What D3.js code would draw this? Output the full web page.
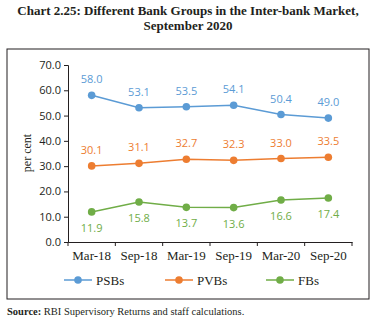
<!DOCTYPE html>
<html><head><meta charset="utf-8">
<script src="https://cdn.jsdelivr.net/npm/d3@7"></script>
<style>body{margin:0;background:#fff}svg{display:block}</style>
</head><body>
<script>
const categories = ["Mar-18","Sep-18","Mar-19","Sep-19","Mar-20","Sep-20"];
const psbs = [58.0,53.1,53.5,54.1,50.4,49.0];
const pvbs = [30.1,31.1,32.7,32.3,33.0,33.5];
const fbs = [11.9,15.8,13.7,13.6,16.6,17.4];
const seriesNames = ["PSBs","PVBs","FBs"];
const yTicks = [0,10,20,30,40,50,60,70];

const W=375,H=321;
const svg=d3.select("body").append("svg").attr("width",W).attr("height",H);
const serif="'Liberation Serif','DejaVu Serif',serif";
const sans="'Open Sans','DejaVu Sans',sans-serif";

svg.append("text").attr("x",188).attr("y",15).attr("text-anchor","middle")
 .attr("font-family",serif).attr("font-weight","bold").attr("font-size",13).attr("fill","#231f20")
 .text("Chart 2.25: Different Bank Groups in the Inter-bank Market,");
svg.append("text").attr("x",188).attr("y",30).attr("text-anchor","middle")
 .attr("font-family",serif).attr("font-weight","bold").attr("font-size",13).attr("fill","#231f20")
 .text("September 2020");

svg.append("rect").attr("x",7).attr("y",49).attr("width",362).attr("height",250)
 .attr("fill","none").attr("stroke","#231f20").attr("stroke-width",1);

const x=d3.scaleBand().domain(categories).range([68,352]);
const y=d3.scaleLinear().domain([0,70]).range([242,65]);

const gy=svg.append("g").attr("transform","translate(68,0)")
 .call(d3.axisLeft(y).tickValues(yTicks).tickFormat(d3.format(".1f")).tickSize(4));
gy.selectAll("text").attr("font-family",sans).attr("font-size",11).attr("fill","#231f20");
gy.select(".domain").attr("stroke","#231f20");
gy.selectAll(".tick line").attr("stroke","#231f20");

const gx=svg.append("g").attr("transform","translate(0,242)")
 .call(d3.axisBottom(x).tickSize(0).tickPadding(9));
gx.selectAll("text").attr("font-family",serif).attr("font-size",13).attr("fill","#231f20");
gx.select(".domain").attr("stroke","#231f20");
// boundary ticks
const bounds=categories.map(c=>x(c)).concat([x.range()[1]]);
svg.append("g").selectAll("line").data(bounds).join("line")
 .attr("x1",d=>d).attr("x2",d=>d).attr("y1",242).attr("y2",246).attr("stroke","#231f20");

const colors=["#5b9bd5","#ed7d31","#70ad47"];
const data=[psbs,pvbs,fbs];
const labelDy=[-12,-12,20];
const cx=c=>x(c)+x.bandwidth()/2;
data.forEach((vals,i)=>{
  const pts=categories.map((c,j)=>({c,v:vals[j]}));
  svg.append("path").datum(pts).attr("fill","none").attr("stroke",colors[i]).attr("stroke-width",1.5)
   .attr("d",d3.line().x(d=>cx(d.c)).y(d=>y(d.v)));
  svg.append("g").selectAll("circle").data(pts).join("circle")
   .attr("cx",d=>cx(d.c)).attr("cy",d=>y(d.v)).attr("r",3.8).attr("fill",colors[i]);
  svg.append("g").selectAll("text").data(pts).join("text")
   .attr("x",d=>cx(d.c)).attr("y",d=>y(d.v)+labelDy[i]).attr("text-anchor","middle")
   .attr("font-family",sans).attr("font-size",11).attr("fill",colors[i])
   .text(d=>d.v.toFixed(1));
});

svg.append("text").attr("transform","translate(31,153) rotate(-90)").attr("text-anchor","middle")
 .attr("font-family",serif).attr("font-size",12).attr("fill","#231f20").text("per cent");

const legX=[64,165,266];
seriesNames.forEach((n,i)=>{
  const g=svg.append("g");
  g.append("line").attr("x1",legX[i]).attr("x2",legX[i]+28).attr("y1",280).attr("y2",280)
   .attr("stroke",colors[i]).attr("stroke-width",1.5);
  g.append("circle").attr("cx",legX[i]+14).attr("cy",280).attr("r",3.8).attr("fill",colors[i]);
  g.append("text").attr("x",legX[i]+32).attr("y",284.5).attr("font-family",serif).attr("font-size",13)
   .attr("fill","#231f20").text(n);
});

const src=svg.append("text").attr("x",7).attr("y",315).attr("font-family",serif).attr("font-size",10.5).attr("fill","#231f20");
src.append("tspan").attr("font-weight","bold").text("Source: ");
src.append("tspan").text("RBI Supervisory Returns and staff calculations.");
</script>
</body></html>
